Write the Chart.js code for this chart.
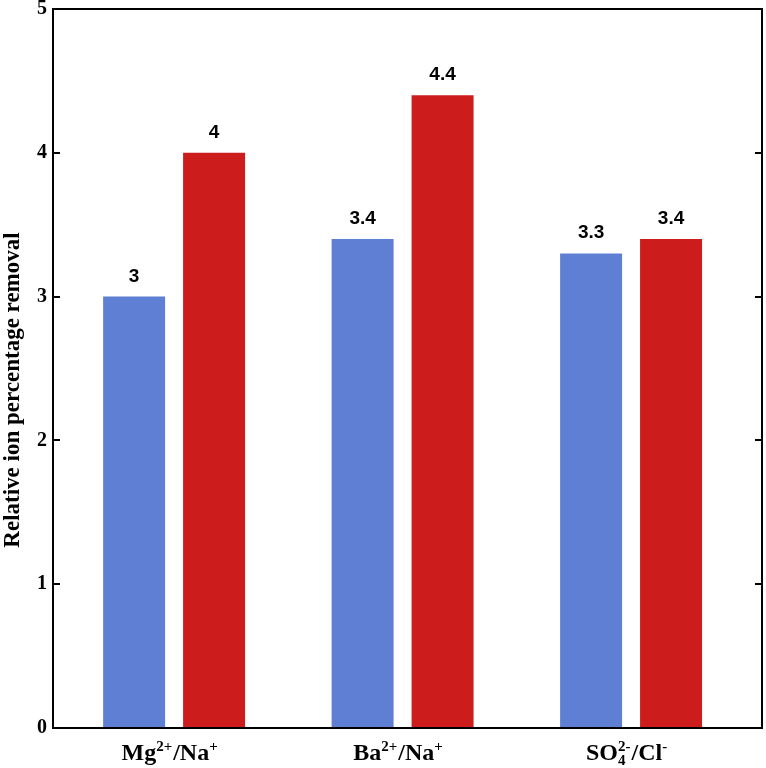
<!DOCTYPE html>
<html>
<head>
<meta charset="utf-8">
<script src="https://cdn.jsdelivr.net/npm/chart.js@4.4.0/dist/chart.umd.min.js"></script>
<style>
  html, body { margin: 0; padding: 0; background: #ffffff; }
  #wrap { width: 766px; height: 768px; }
</style>
</head>
<body>
<div id="wrap"><canvas id="c" width="766" height="768"></canvas></div>
<script>
// ---- data ----
const categories = ['Mg²⁺/Na⁺', 'Ba²⁺/Na⁺', 'SO₄²⁻/Cl⁻'];
const seriesA = [3, 3.4, 3.3];   // blue bars
const seriesB = [4, 4.4, 3.4];   // red bars
const seriesALabels = ['3', '3.4', '3.3'];
const seriesBLabels = ['4', '4.4', '3.4'];
const yTicks = [0, 1, 2, 3, 4, 5];
const yTitle = 'Relative ion percentage removal';

const SERIF = '"Liberation Serif", "Times New Roman", serif';
const SANS = '"Liberation Sans", Arial, sans-serif';
const BLUE = '#5f7fd4';
const RED = '#cc1c1c';

const SUP = { '²': '2', '⁺': '+', '⁻': '-' };
const SUB = { '₄': '4' };

function tokenize(str) {
  const runs = [];
  for (const ch of str) {
    let type = 'n', c = ch;
    if (SUP[ch] !== undefined) { type = 'sup'; c = SUP[ch]; }
    else if (SUB[ch] !== undefined) { type = 'sub'; c = SUB[ch]; }
    const last = runs[runs.length - 1];
    if (last && last.type === type) last.text += c;
    else runs.push({ type, text: c });
  }
  const pieces = [];
  for (let i = 0; i < runs.length; i++) {
    const r = runs[i];
    if (r.type === 'sub' && runs[i + 1] && runs[i + 1].type === 'sup') {
      pieces.push({ type: 'stack', sub: r.text, sup: runs[i + 1].text });
      i++;
    } else pieces.push(r);
  }
  return pieces;
}

const mainFont = 'bold 24px ' + SERIF;
const smallFont = 'bold 15px ' + SERIF;

function pieceWidth(ctx, p) {
  if (p.type === 'n') { ctx.font = mainFont; return ctx.measureText(p.text).width; }
  ctx.font = smallFont;
  if (p.type === 'stack') return Math.max(ctx.measureText(p.sub).width, ctx.measureText(p.sup).width) + 1;
  return ctx.measureText(p.text).width + 1;
}

function drawRich(ctx, str, cx, baseline) {
  const pieces = tokenize(str);
  let total = 0;
  pieces.forEach(p => total += pieceWidth(ctx, p));
  let x = cx - total / 2;
  ctx.textAlign = 'left';
  ctx.textBaseline = 'alphabetic';
  ctx.fillStyle = '#000';
  pieces.forEach(p => {
    const w = pieceWidth(ctx, p);
    if (p.type === 'n') { ctx.font = mainFont; ctx.fillText(p.text, x, baseline); }
    else if (p.type === 'sup') { ctx.font = smallFont; ctx.fillText(p.text, x, baseline - 9); }
    else if (p.type === 'sub') { ctx.font = smallFont; ctx.fillText(p.text, x, baseline + 5); }
    else {
      ctx.font = smallFont;
      ctx.fillText(p.sup, x, baseline - 9);
      ctx.fillText(p.sub, x, baseline + 5);
    }
    x += w;
  });
}

const decor = {
  id: 'decor',
  afterDatasetsDraw(chart) {
    const ctx = chart.ctx;
    const a = chart.chartArea;
    const ys = chart.scales.y, xs = chart.scales.x;
    ctx.save();
    ctx.strokeStyle = '#000';
    ctx.lineWidth = 2;
    ctx.strokeRect(a.left, a.top, a.right - a.left, a.bottom - a.top);
    yTicks.forEach(v => {
      const y = Math.round(ys.getPixelForValue(v));
      ctx.beginPath();
      ctx.moveTo(a.left, y); ctx.lineTo(a.left + 7, y);
      ctx.moveTo(a.right, y); ctx.lineTo(a.right - 7, y);
      ctx.stroke();
    });
    ctx.font = 'bold 19px ' + SANS;
    ctx.fillStyle = '#000';
    ctx.textAlign = 'center';
    ctx.textBaseline = 'alphabetic';
    const lbls = [seriesALabels, seriesBLabels];
    chart.data.datasets.forEach((ds, di) => {
      const meta = chart.getDatasetMeta(di);
      meta.data.forEach((bar, i) => {
        ctx.fillText(lbls[di][i], bar.x, bar.y - 15);
      });
    });
    categories.forEach((c, i) => {
      drawRich(ctx, c, xs.getPixelForValue(i) - 4, 760);
    });
    ctx.translate(19, 390);
    ctx.rotate(-Math.PI / 2);
    ctx.font = 'bold 23px ' + SERIF;
    ctx.textAlign = 'center';
    ctx.textBaseline = 'alphabetic';
    ctx.fillText(yTitle, 0, 0);
    ctx.restore();
  }
};

new Chart(document.getElementById('c'), {
  type: 'bar',
  data: {
    datasets: [
      { label: 'A', data: seriesA.map((v, i) => ({ x: i, y: v })), backgroundColor: BLUE, categoryPercentage: 0.70, barPercentage: 0.775 },
      { label: 'B', data: seriesB.map((v, i) => ({ x: i, y: v })), backgroundColor: RED, categoryPercentage: 0.70, barPercentage: 0.775 }
    ]
  },
  options: {
    responsive: false,
    animation: false,
    layout: { padding: { left: 0, top: 9, right: 4, bottom: 40 } },
    plugins: { legend: { display: false }, tooltip: { enabled: false }, title: { display: false } },
    scales: {
      x: {
        type: 'linear',
        display: false,
        offset: false,
        min: -0.53,
        max: 2.573,
        afterBuildTicks: s => { s.ticks = categories.map((c, i) => ({ value: i })); },
        grid: { display: false }
      },
      y: {
        min: 0, max: 5,
        afterBuildTicks: s => { s.ticks = yTicks.map(v => ({ value: v })); },
        afterFit: s => { s.width = 53; s.paddingTop = 0; s.paddingBottom = 0; },
        grid: { display: false, drawTicks: false },
        border: { display: false },
        ticks: {
          padding: 6,
          color: '#000',
          font: { family: SERIF, size: 20, weight: 'bold', lineHeight: 1 }
        }
      }
    }
  },
  plugins: [decor]
});
</script>
</body>
</html>
